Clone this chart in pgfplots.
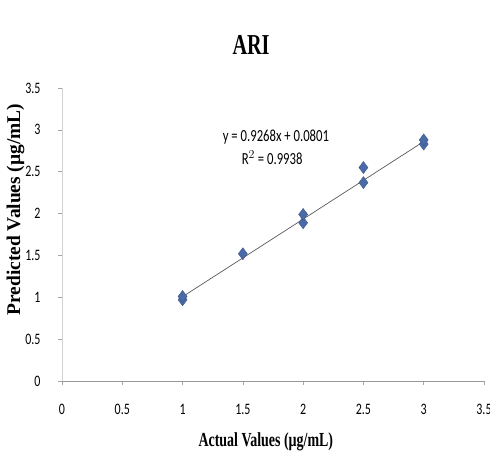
\documentclass[border=0pt]{standalone}
\usepackage{fontspec}
\setmainfont{Liberation Serif}
\newfontfamily\sercond{Liberation Serif}[FakeStretch=0.7]
\newfontfamily\carl{Carlito}[FakeStretch=0.75]
\usepackage{pgfplots}
\pgfplotsset{compat=1.18}
\definecolor{mk}{HTML}{4A6BA8}
\begin{document}
\begin{tikzpicture}
\path[use as bounding box] (-62bp,-76bp) rectangle (428bp,381bp);
\begin{axis}[
  scale only axis, width=422bp, height=293bp,
  xmin=0, xmax=3.5, ymin=0, ymax=3.5,
  xtick={0,0.5,...,3.5}, ytick={0,0.5,...,3.5},
  axis lines*=left,
  x axis line style={draw=gray!80, line width=0.8pt},
  y axis line style={draw=gray!35, line width=0.8pt},
  tick align=outside, tick style={draw=gray!70, line width=0.5pt},
  major tick length=4bp,
  /pgf/number format/assume math mode=true,
  tick label style={font=\carl\fontsize{16}{17}\selectfont},
  xticklabel style={yshift=-16bp},
  yticklabel style={xshift=-14bp},
  clip=false,
]
\addplot[only marks, mark=diamond*, mark size=6bp, mark options={fill=mk, draw=mk!80!black}, color=mk]
 coordinates {(1,0.97) (1,1.01) (1.5,1.52) (2,1.89) (2,1.99) (2.5,2.37) (2.5,2.55) (3,2.83) (3,2.88)};
\addplot[gray!70!black, line width=0.7pt] coordinates {(1,1.0069) (3,2.8605)};
\node[font=\carl\fontsize{17}{18}\selectfont] at (rel axis cs:0.507,0.833) {y = 0.9268x + 0.0801};
\node[font=\carl\fontsize{17}{18}\selectfont] at (rel axis cs:0.498,0.761) {R$^2$ = 0.9938};
\node[font=\sercond\bfseries\fontsize{29}{31}\selectfont] at (rel axis cs:0.448,1.147) {ARI};
\node[font=\sercond\bfseries\fontsize{20}{22}\selectfont] at (rel axis cs:0.483,-0.208) {Actual Values (µg/mL)};
\node[font=\bfseries\fontsize{19.5}{21}\selectfont, rotate=90] at (rel axis cs:-0.11,0.585) {Predicted Values (µg/mL)};
\end{axis}
\end{tikzpicture}
\end{document}
